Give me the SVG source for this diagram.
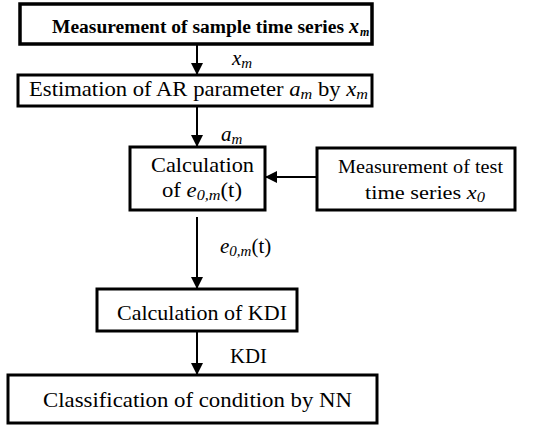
<svg xmlns="http://www.w3.org/2000/svg" width="535" height="426" viewBox="0 0 535 426">
<style>
.box{fill:#fff;stroke:#000;stroke-width:3}
.bold{stroke-width:3.5}
.t{font-family:"Liberation Serif","Times New Roman",serif;font-size:21px;fill:#000}
.b{font-weight:bold}
.i{font-style:italic}
.ln{stroke:#000;stroke-width:2;fill:none}
</style>
<defs>
<marker id="ah" markerWidth="12" markerHeight="16" refX="12" refY="8" orient="auto" markerUnits="userSpaceOnUse">
<path d="M0,2 L12,8 L0,14 Z" fill="#000"/>
</marker>
</defs>
<rect width="535" height="426" fill="#fff"/>
<g id="connectors">
<line class="ln" x1="197" y1="44" x2="197" y2="75" marker-end="url(#ah)"/>
<line class="ln" x1="197" y1="106" x2="197" y2="147" marker-end="url(#ah)"/>
<line class="ln" x1="317" y1="177" x2="265" y2="177" marker-end="url(#ah)"/>
<line class="ln" x1="197" y1="217" x2="197" y2="289" marker-end="url(#ah)"/>
<line class="ln" x1="197" y1="331" x2="197" y2="375" marker-end="url(#ah)"/>
<text class="t i" x="232" y="65">x<tspan font-size="15" dy="3">m</tspan></text>
<text class="t i" x="221" y="141">a<tspan font-size="15" dy="3">m</tspan></text>
<text class="t" x="220" y="253"><tspan class="i">e</tspan><tspan class="i" font-size="15" dy="3">0,m</tspan><tspan dy="-3">(t)</tspan></text>
<text class="t" x="230" y="363" textLength="37" lengthAdjust="spacingAndGlyphs">KDI</text>
</g>
<g id="n1">
<rect class="box bold" x="20" y="4" width="352" height="40"/>
<text class="t b" x="52" y="33" style="font-size:18px" textLength="292" lengthAdjust="spacingAndGlyphs">Measurement of sample time series</text>
<text class="t b i" x="349" y="33" style="font-size:20px">x</text>
<text class="t b i" x="360" y="36" style="font-size:12px">m</text>
</g>
<g id="n2">
<rect class="box" x="18" y="75" width="354" height="31"/>
<text class="t" x="29" y="96" textLength="339" lengthAdjust="spacingAndGlyphs">Estimation of AR parameter <tspan class="i">a</tspan><tspan class="i" font-size="15" dy="3">m</tspan><tspan dy="-3"> by </tspan><tspan class="i">x</tspan><tspan class="i" font-size="15" dy="3">m</tspan></text>
</g>
<g id="n3">
<rect class="box" x="130" y="147" width="135" height="63"/>
<text class="t" x="151" y="172" textLength="103" lengthAdjust="spacingAndGlyphs">Calculation</text>
<text class="t" x="162" y="197" textLength="80" lengthAdjust="spacingAndGlyphs">of <tspan class="i">e</tspan><tspan class="i" font-size="15" dy="3">0,m</tspan><tspan dy="-3">(t)</tspan></text>
</g>
<g id="n4">
<rect class="box" x="317" y="148" width="198" height="62"/>
<text class="t" x="338" y="173" textLength="165" lengthAdjust="spacingAndGlyphs" style="font-size:19px">Measurement of test</text>
<text class="t" x="365" y="199" textLength="120" lengthAdjust="spacingAndGlyphs" style="font-size:19px">time series <tspan class="i">x</tspan><tspan class="i" font-size="14" dy="3">0</tspan></text>
</g>
<g id="n5">
<rect class="box" x="97" y="289" width="200" height="42"/>
<text class="t" x="117" y="320" textLength="170" lengthAdjust="spacingAndGlyphs">Calculation of KDI</text>
</g>
<g id="n6">
<rect class="box" x="8" y="375" width="369" height="48"/>
<text class="t" x="43" y="407" textLength="309" lengthAdjust="spacingAndGlyphs">Classification of condition by NN</text>
</g>
</svg>
